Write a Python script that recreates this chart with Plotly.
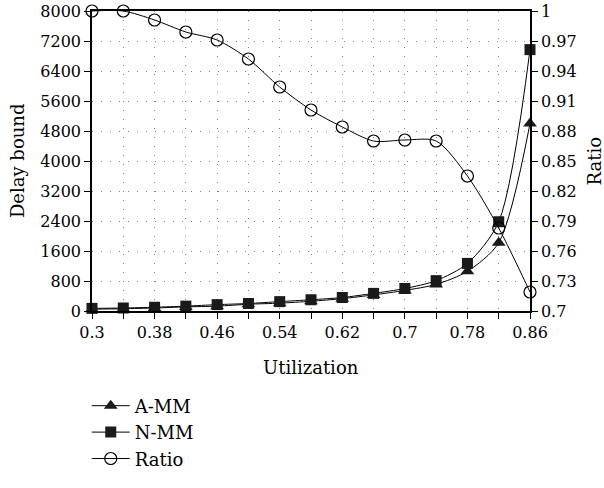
import plotly.graph_objects as go

utilization = [0.30, 0.34, 0.38, 0.42, 0.46, 0.50, 0.54, 0.58, 0.62, 0.66, 0.70, 0.74, 0.78, 0.82, 0.86]
a_mm = [50, 60, 80, 110, 130, 180, 210, 260, 330, 430, 550, 710, 1060, 1820, 5000]
n_mm = [70, 80, 100, 130, 170, 200, 250, 300, 360, 470, 600, 810, 1270, 2380, 6970]
ratio = [1.0, 1.0, 0.991, 0.979, 0.971, 0.952, 0.924, 0.901, 0.884, 0.870, 0.871, 0.870, 0.835, 0.783, 0.719]

x_ticks = [0.3, 0.38, 0.46, 0.54, 0.62, 0.7, 0.78, 0.86]
y_ticks = [0, 800, 1600, 2400, 3200, 4000, 4800, 5600, 6400, 7200, 8000]
y2_ticks = [0.7, 0.73, 0.76, 0.79, 0.82, 0.85, 0.88, 0.91, 0.94, 0.97, 1]
y2_labels = ["0.7", "0.73", "0.76", "0.79", "0.82", "0.85", "0.88", "0.91", "0.94", "0.97", "1"]

FONT = "DejaVu Serif"
GRID = "#808080"
DASH = "1px,8px"

fig = go.Figure()
line = dict(color="black", width=1, shape="spline", smoothing=0.8)
fig.add_trace(go.Scatter(x=utilization, y=a_mm, name="A-MM", mode="lines+markers", line=line,
                         marker=dict(symbol="triangle-up", size=12, color="#1a1a1a"), cliponaxis=False))
fig.add_trace(go.Scatter(x=utilization, y=n_mm, name="N-MM", mode="lines+markers", line=line,
                         marker=dict(symbol="square", size=11, color="#1a1a1a"), cliponaxis=False))
fig.add_trace(go.Scatter(x=utilization, y=ratio, name="Ratio", mode="lines+markers", line=line,
                         marker=dict(symbol="circle-open", size=12, color="black", line=dict(width=1.2)),
                         yaxis="y2", cliponaxis=False))

fig.update_layout(
    width=604, height=488,
    margin=dict(l=92, r=74, t=11, b=168),
    plot_bgcolor="white", paper_bgcolor="white",
    font=dict(family=FONT, size=16, color="black"),
    showlegend=True,
    legend=dict(x=-0.012, y=-0.255, xanchor="left", yanchor="top", orientation="v",
                font=dict(family=FONT, size=18), tracegroupgap=0, bgcolor="rgba(0,0,0,0)",
                itemwidth=38),
    xaxis=dict(range=[0.3, 0.86], tickvals=x_ticks, ticktext=[str(v) for v in x_ticks],
               automargin=False, ticklabeloverflow="allow",
               showline=True, linecolor="black", linewidth=1.5, mirror=True,
               ticks="outside", ticklen=6, tickcolor="black",
               showgrid=True, gridcolor=GRID, griddash=DASH, gridwidth=1,
               minor=dict(dtick=0.04, tick0=0.3, showgrid=True, gridcolor=GRID, griddash=DASH,
                          ticks="outside", ticklen=6, tickcolor="black"),
               zeroline=False),
    yaxis=dict(range=[0, 8000], tickvals=y_ticks, showline=True, linecolor="black", linewidth=1.5,
               automargin=False, ticklabeloverflow="allow",
               ticks="outside", ticklen=6, tickcolor="black",
               showgrid=True, gridcolor=GRID, griddash=DASH, gridwidth=1, zeroline=False),
    yaxis2=dict(range=[0.7, 1.0], tickvals=y2_ticks, ticktext=y2_labels, overlaying="y", side="right",
                automargin=False, ticklabeloverflow="allow",
                showline=True, linecolor="black", linewidth=1.5,
                ticks="outside", ticklen=6, tickcolor="black", showgrid=False, zeroline=False),
    annotations=[
        dict(text="Utilization", xref="paper", yref="paper", x=0.5, y=-0.188, xanchor="center",
             yanchor="middle", showarrow=False, font=dict(family=FONT, size=18)),
        dict(text="Delay bound", xref="paper", yref="paper", x=-0.171, y=0.5, xanchor="center",
             yanchor="middle", textangle=-90, showarrow=False, font=dict(family=FONT, size=18)),
        dict(text="Ratio", xref="paper", yref="paper", x=1.145, y=0.5, xanchor="center",
             yanchor="middle", textangle=-90, showarrow=False, font=dict(family=FONT, size=18)),
    ],
)

# remove the page's default 8px body margin so the figure sits at the window's corner
fig.write_html("out.html", config={"displayModeBar": False},
               post_script="document.body.style.margin='0';")
